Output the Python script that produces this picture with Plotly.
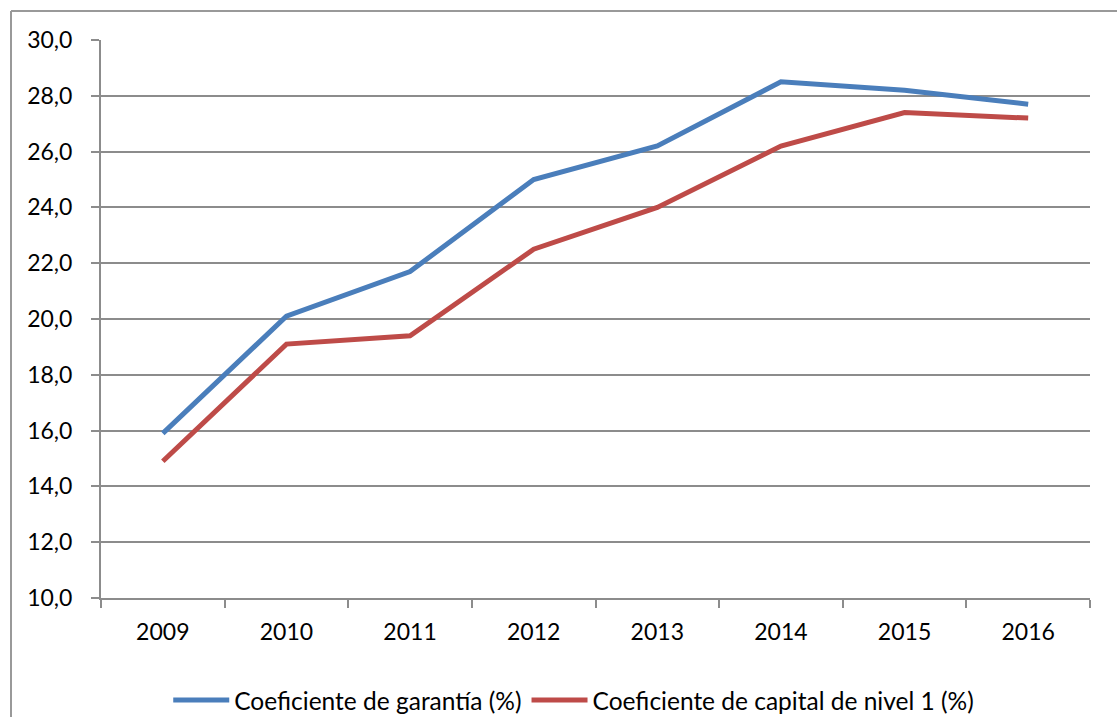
import plotly.graph_objects as go

years = ["2009", "2010", "2011", "2012", "2013", "2014", "2015", "2016"]
garantia = [15.9, 20.1, 21.7, 25.0, 26.2, 28.5, 28.2, 27.7]
capital_n1 = [14.9, 19.1, 19.4, 22.5, 24.0, 26.2, 27.4, 27.2]
series_names = ["Coeficiente de garantía (%)", "Coeficiente de capital de nivel 1 (%)"]
colors = ["#4A7EBB", "#BE4B48"]

fig = go.Figure()
for name, vals, col in zip(series_names, [garantia, capital_n1], colors):
    fig.add_trace(go.Scatter(x=years, y=vals, name=name, mode="lines",
                             line=dict(color=col, width=5)))

grid = "#8C8C8C"
fig.update_layout(
    width=1117, height=717,
    margin=dict(l=101, r=27, t=40, b=119, autoexpand=False),
    paper_bgcolor="white", plot_bgcolor="white",
    separators=",.",
    font=dict(family="Lato, Carlito, sans-serif", size=23, color="black"),
    xaxis=dict(type="category", tickson="boundaries", ticks="outside", ticklen=8,
               tickcolor=grid, tickwidth=2, showline=True, linecolor=grid, linewidth=2,
               showgrid=False, ticklabelstandoff=12, range=[-0.5, 7.5]),
    yaxis=dict(range=[10, 30], dtick=2, tickformat=".1f", ticks="outside", ticklen=8,
               tickcolor=grid, tickwidth=2, showline=True, linecolor=grid, linewidth=2,
               showgrid=True, gridcolor=grid, gridwidth=2, zeroline=False,
               ticklabelstandoff=14),
    legend=dict(orientation="h", x=0.478, xanchor="center", y=-0.183, yanchor="middle",
                font=dict(size=24.5), itemwidth=56),
    shapes=[
        dict(type="line", xref="paper", yref="paper", x0=-0.091, x1=-0.091,
             y0=-0.3, y1=1.052, line=dict(color="#999999", width=2)),
        dict(type="line", xref="paper", yref="paper", x0=-0.091, x1=1.1,
             y0=1.052, y1=1.052, line=dict(color="#999999", width=2)),
    ],
)
fig.write_html("out.html", config={"displayModeBar": False},
               post_script="document.body.style.margin='0';")
